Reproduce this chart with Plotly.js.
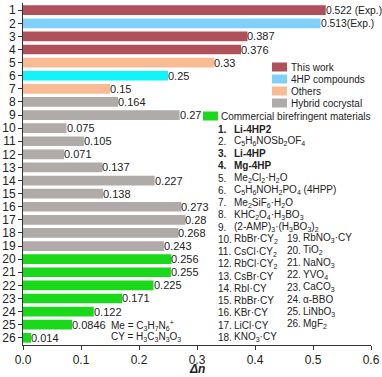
<!DOCTYPE html>
<html>
<head>
<meta charset="utf-8">
<script src="https://cdn.plot.ly/plotly-3.0.1.min.js"></script>
<style>
  html, body { margin: 0; padding: 0; background: #fff; }
  #chart { width: 382px; height: 377px; }
</style>
</head>
<body>
<div id="chart"></div>
<script>
// compound index (1..26) and birefringence values
var ids = [1,2,3,4,5,6,7,8,9,10,11,12,13,14,15,16,17,18,19,20,21,22,23,24,25,26];
var dn = [0.522,0.513,0.387,0.376,0.33,0.25,0.15,0.164,0.27,0.075,0.105,0.071,0.137,
          0.227,0.138,0.273,0.28,0.268,0.243,0.256,0.255,0.225,0.171,0.122,0.0846,0.014];
var valueLabels = ["0.522 (Exp.)","0.513(Exp.)","0.387","0.376","0.33","0.25","0.15","0.164","0.27",
  "0.075","0.105","0.071","0.137","0.227","0.138","0.273","0.28","0.268","0.243",
  "0.256","0.255","0.225","0.171","0.122","0.0846","0.014"];
var group = ["work","4hp","work","work","oth","4hp","oth","hyb","hyb","hyb","hyb","hyb","hyb",
  "hyb","hyb","hyb","hyb","hyb","hyb","com","com","com","com","com","com","com"];

var groupNames = ["This work","4HP compounds","Others","Hybrid cocrystal","Commercial birefringent materials"];
var groupKeys = ["work","4hp","oth","hyb","com"];
var groupColors = {work:"#b0505a", "4hp":"#80d0fc", oth:"#f8bc94", hyb:"#b0aaa8", com:"#1ad81a"};
var cyanBar = 6; // second 4HP compound drawn in cyan

// compound names, numbered 1..26 in order
var names = [
  "<b>Li-4HP2</b>",
  "C<sub>5</sub>H<sub>6</sub>NOSb<sub>2</sub>OF<sub>4</sub>",
  "<b>Li-4HP</b>",
  "<b>Mg-4HP</b>",
  "Me<sub>2</sub>Cl<sub>2</sub>·H<sub>2</sub>O",
  "C<sub>5</sub>H<sub>6</sub>NOH<sub>2</sub>PO<sub>4</sub> (4HPP)",
  "Me<sub>2</sub>SiF<sub>6</sub>·H<sub>2</sub>O",
  "KHC<sub>2</sub>O<sub>4</sub>·H<sub>3</sub>BO<sub>3</sub>",
  "(2-AMP)<sub>3</sub>·(H<sub>3</sub>BO<sub>3</sub>)<sub>2</sub>",
  "RbBr·CY<sub>2</sub>",
  "CsCl·CY<sub>2</sub>",
  "RbCl·CY<sub>2</sub>",
  "CsBr·CY",
  "RbI·CY",
  "RbBr·CY",
  "KBr·CY",
  "LiCl·CY",
  "KNO<sub>3</sub>·CY",
  "RbNO<sub>3</sub>·CY",
  "TiO<sub>2</sub>",
  "NaNO<sub>3</sub>",
  "YVO<sub>4</sub>",
  "CaCO<sub>3</sub>",
  "α-BBO",
  "LiNbO<sub>3</sub>",
  "MgF<sub>2</sub>"
];
var boldIds = [1, 3, 4];
var notes = ["Me = C<sub>3</sub>H<sub>7</sub>N<sub>6</sub><sup>+</sup>", "CY = H<sub>3</sub>C<sub>3</sub>N<sub>3</sub>O<sub>3</sub>"];

var W = 382, H = 377;
var mL = 23, mR = 11, mT = 3, mB = 32;
function px(x) { return (x - mL) / (W - mL - mR); }
function py(y) { return 1 - (y - mT) / (H - mT - mB); }

var data = [];
groupKeys.forEach(function (k) {
  var xs = [], ys = [], cs = [];
  for (var i = 0; i < ids.length; i++) {
    if (group[i] !== k) continue;
    xs.push(dn[i]); ys.push(ids[i]);
    cs.push(ids[i] === cyanBar ? "#10f4fa" : groupColors[k]);
  }
  data.push({
    type: "bar", orientation: "h", x: xs, y: ys,
    marker: {color: cs, line: {width: 0}},
    width: 0.74, showlegend: false,
    hoverinfo: "x+y"
  });
});

var fnt = {family: "Liberation Sans, Arial", size: 10, color: "#222"};
var annotations = [], shapes = [];

// value labels at the end of each bar
for (var i = 0; i < ids.length; i++) {
  annotations.push({xref: "x", yref: "y", x: dn[i], y: ids[i], xshift: -1,
    xanchor: "left", yanchor: "middle", text: valueLabels[i], showarrow: false,
    font: {family: "Liberation Sans, Arial", size: i < 2 ? 10.3 : 11, color: "#222"},
    borderpad: 0});
}

// legend: first four stacked, commercial entry offset to the left
var legY = [67, 79, 91, 103];
for (var g = 0; g < 4; g++) {
  shapes.push({type: "rect", xref: "paper", yref: "paper",
    x0: px(272), x1: px(287), y0: py(legY[g] - 4.5), y1: py(legY[g] + 4.5),
    fillcolor: groupColors[groupKeys[g]], line: {width: 0}});
  annotations.push({xref: "paper", yref: "paper", x: px(289), y: py(legY[g]),
    xanchor: "left", yanchor: "middle", text: groupNames[g], showarrow: false, font: fnt});
}
shapes.push({type: "rect", xref: "paper", yref: "paper",
  x0: px(203), x1: px(218), y0: py(111.5), y1: py(120.5),
  fillcolor: groupColors.com, line: {width: 0}});
annotations.push({xref: "paper", yref: "paper", x: px(219), y: py(116),
  xanchor: "left", yanchor: "middle", text: groupNames[4], showarrow: false, font: fnt});

// compound list: 1-18 in first column, 19-26 in second
names.forEach(function (t, i) {
  var n = i + 1, x0, yy;
  if (n <= 18) { x0 = 217; yy = 129 + i * 12.25; }
  else { x0 = 286; yy = 238 + (i - 18) * 12.25; }
  var numTxt = boldIds.indexOf(n) >= 0 ? "<b>" + n + ".</b>" : n + ".";
  annotations.push({xref: "paper", yref: "paper", x: px(x0), y: py(yy),
    xanchor: "left", yanchor: "middle", text: numTxt, showarrow: false, font: fnt, borderpad: 0});
  annotations.push({xref: "paper", yref: "paper", x: px(x0 + 16), y: py(yy),
    xanchor: "left", yanchor: "middle", text: t, showarrow: false, font: fnt, borderpad: 0});
});
notes.forEach(function (t, i) {
  annotations.push({xref: "paper", yref: "paper", x: px(109), y: py(325 + i * 12),
    xanchor: "left", yanchor: "middle", text: t, showarrow: false, font: fnt});
});

// x-axis title
annotations.push({xref: "paper", yref: "paper", x: px(197), y: py(377),
  xanchor: "center", yanchor: "bottom", text: "<b><i>Δn</i></b>", showarrow: false,
  font: {family: "Liberation Sans, Arial", size: 12, color: "#222"}, borderpad: 0});

var layout = {
  width: W, height: H,
  margin: {l: mL, r: mR, t: mT, b: mB, pad: 0},
  paper_bgcolor: "#fff", plot_bgcolor: "#fff",
  showlegend: false,
  font: {family: "Liberation Sans, Arial", size: 12, color: "#222"},
  xaxis: {
    range: [0, 0.6], tickvals: [0, 0.1, 0.2, 0.3, 0.4, 0.5, 0.6],
    ticktext: ["0.0", "0.1", "0.2", "0.3", "0.4", "0.5", "0.6"],
    showgrid: false, zeroline: false, showline: true, linecolor: "#333", linewidth: 1,
    ticks: "outside", ticklen: 4, tickcolor: "#333",
    tickfont: {size: 12, color: "#222"}
  },
  yaxis: {
    range: [26.55, 0.45], tickvals: ids, ticktext: ids.map(String),
    showgrid: false, zeroline: false, showline: true, linecolor: "#333", linewidth: 1,
    ticks: "outside", ticklen: 4, tickcolor: "#333",
    tickfont: {size: 12, color: "#222"}
  },
  shapes: shapes,
  annotations: annotations
};

Plotly.newPlot("chart", data, layout, {displayModeBar: false, staticPlot: true});
</script>
</body>
</html>
